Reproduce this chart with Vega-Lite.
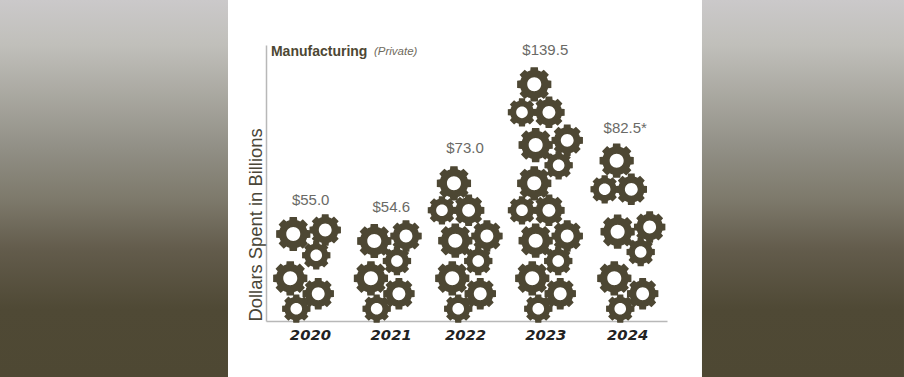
{"$schema":"https://vega.github.io/schema/vega-lite/v6.json","width":401,"height":276,"autosize":{"type":"none"},"padding":{"left":266,"top":45,"right":237,"bottom":56},"background":"#ffffff","config":{"view":{"stroke":null}},
"datasets":{
"panels":[{"side":"left","x0":2016.101,"x1":2018.969,"y0":-30.94,"y1":177.35},{"side":"right","x0":2024.931,"x1":2027.472,"y0":-30.94,"y1":177.35}],
"gears":[
{"year":2020,"kind":"large","x":2019.79,"y":48.07},{"year":2020,"kind":"medium","x":2020.192,"y":50.28},{"year":2020,"kind":"small","x":2020.079,"y":36.3},{"year":2020,"kind":"large","x":2019.752,"y":23.59},{"year":2020,"kind":"medium","x":2020.104,"y":15.08},{"year":2020,"kind":"small","x":2019.828,"y":6.8},
{"year":2021,"kind":"large","x":2020.809,"y":44.2},{"year":2021,"kind":"medium","x":2021.208,"y":46.96},{"year":2021,"kind":"small","x":2021.094,"y":33.15},{"year":2021,"kind":"large","x":2020.767,"y":23.59},{"year":2021,"kind":"medium","x":2021.119,"y":15.08},{"year":2021,"kind":"small","x":2020.839,"y":6.8},
{"year":2022,"kind":"large","x":2021.828,"y":44.36},{"year":2022,"kind":"medium","x":2022.226,"y":46.96},{"year":2022,"kind":"small","x":2022.117,"y":33.15},{"year":2022,"kind":"large","x":2021.79,"y":23.59},{"year":2022,"kind":"medium","x":2022.142,"y":15.08},{"year":2022,"kind":"small","x":2021.865,"y":6.8},{"year":2022,"kind":"small","x":2021.66,"y":61.16},{"year":2022,"kind":"medium","x":2021.996,"y":61.16},{"year":2022,"kind":"large","x":2021.811,"y":76.08},
{"year":2023,"kind":"large","x":2022.839,"y":44.36},{"year":2023,"kind":"medium","x":2023.236,"y":46.96},{"year":2023,"kind":"small","x":2023.123,"y":33.15},{"year":2023,"kind":"large","x":2022.796,"y":23.59},{"year":2023,"kind":"medium","x":2023.148,"y":15.08},{"year":2023,"kind":"small","x":2022.872,"y":6.8},{"year":2023,"kind":"small","x":2022.667,"y":61.16},{"year":2023,"kind":"medium","x":2023.006,"y":61.16},{"year":2023,"kind":"large","x":2022.821,"y":76.08},{"year":2023,"kind":"large","x":2022.821,"y":130.77},{"year":2023,"kind":"small","x":2022.667,"y":115.3},{"year":2023,"kind":"medium","x":2023.006,"y":115.3},{"year":2023,"kind":"large","x":2022.839,"y":97.24},{"year":2023,"kind":"medium","x":2023.236,"y":99.83},{"year":2023,"kind":"small","x":2023.128,"y":86.02},
{"year":2024,"kind":"large","x":2023.87,"y":49.34},{"year":2024,"kind":"medium","x":2024.273,"y":51.93},{"year":2024,"kind":"small","x":2024.16,"y":38.12},{"year":2024,"kind":"large","x":2023.828,"y":23.59},{"year":2024,"kind":"medium","x":2024.185,"y":15.08},{"year":2024,"kind":"small","x":2023.903,"y":6.8},{"year":2024,"kind":"small","x":2023.707,"y":72.76},{"year":2024,"kind":"medium","x":2024.042,"y":72.76},{"year":2024,"kind":"large","x":2023.858,"y":88.56}
],
"labels":[{"label":"$55.0","x":2020.009,"y":66.85},{"label":"$54.6","x":2021.023,"y":63.15},{"label":"$73.0","x":2021.95,"y":95.58},{"label":"$139.5","x":2022.96,"y":149.56},{"label":"$82.5*","x":2023.966,"y":106.8}]
},
"encoding":{
"x":{"field":"x","type":"quantitative","scale":{"domain":[2019.447,2024.491],"nice":false,"zero":false},"axis":{"title":null,"values":[2020,2021.015,2021.95,2022.96,2023.99],"labelExpr":"format(round(datum.value),'d')","grid":false,"ticks":false,"domainColor":"#b8b8b8","domainWidth":1.5,"labelPadding":6,"labelFont":"DejaVu Sans","labelFontWeight":"bold","labelFontStyle":"oblique","labelFontSize":14.8,"labelColor":"#222222"}},
"y":{"field":"y","type":"quantitative","scale":{"domain":[0,152.5],"nice":false,"zero":false},"axis":{"title":"Dollars Spent in Billions","labels":false,"ticks":false,"grid":false,"domainColor":"#b8b8b8","domainWidth":1.5,"titleX":-11,"titleY":276,"titleAngle":-90,"titleAlign":"left","titleBaseline":"middle","titleFont":"Liberation Sans","titleFontWeight":"normal","titleFontSize":18.4,"titleColor":"#4a4638"}}
},
"layer":[
{"data":{"name":"panels"},"mark":{"type":"rect","color":{"gradient":"linear","x1":0,"y1":0,"x2":0,"y2":1,"stops":[{"offset":0,"color":"#cbc9ca"},{"offset":0.12,"color":"#c0bfba"},{"offset":0.4,"color":"#908e84"},{"offset":0.53,"color":"#7d796b"},{"offset":0.66,"color":"#635c4c"},{"offset":0.82,"color":"#4f4935"},{"offset":1,"color":"#4e4833"}]}},"encoding":{"x":{"field":"x0","type":"quantitative"},"x2":{"field":"x1"},"y":{"field":"y0","type":"quantitative"},"y2":{"field":"y1"}}},
{"data":{"name":"gears"},"mark":{"type":"point","filled":true,"opacity":1,"color":"#4d4733","shape":"M.788 -.226L.978 -.208L.978 .208L.788 .226A.82 .82 0 0 1 .717 .398L.839 .545L.545 .839L.398 .717A.82 .82 0 0 1 .226 .788L.208 .978L-.208 .978L-.226 .788A.82 .82 0 0 1 -.398 .717L-.545 .839L-.839 .545L-.717 .398A.82 .82 0 0 1 -.788 .226L-.978 .208L-.978 -.208L-.788 -.226A.82 .82 0 0 1 -.717 -.398L-.839 -.545L-.545 -.839L-.398 -.717A.82 .82 0 0 1 -.226 -.788L-.208 -.978L.208 -.978L.226 -.788A.82 .82 0 0 1 .398 -.717L.545 -.839L.839 -.545L.717 -.398A.82 .82 0 0 1 .788 -.226ZM.4 0A.4 .4 0 1 0 -.4 0A.4 .4 0 1 0 .4 0Z"},"encoding":{"size":{"field":"kind","type":"nominal","scale":{"domain":["large","medium","small"],"range":[1225,841,529]},"legend":null}}},
{"data":{"name":"labels"},"mark":{"type":"text","font":"Liberation Sans","fontSize":15,"color":"#6a6a66","align":"center","baseline":"middle"},"encoding":{"text":{"field":"label"}}},
{"data":{"values":[{"label":"Manufacturing","x":2019.509,"y":148.6}]},"mark":{"type":"text","font":"Liberation Sans","fontWeight":"bold","fontSize":14,"color":"#4d4733","align":"left","baseline":"middle"},"encoding":{"text":{"field":"label"}}},
{"data":{"values":[{"label":"(Private)","x":2020.805,"y":148.6}]},"mark":{"type":"text","font":"Liberation Sans","fontStyle":"italic","fontSize":11.5,"color":"#6f6a5c","align":"left","baseline":"middle"},"encoding":{"text":{"field":"label"}}}
]}
